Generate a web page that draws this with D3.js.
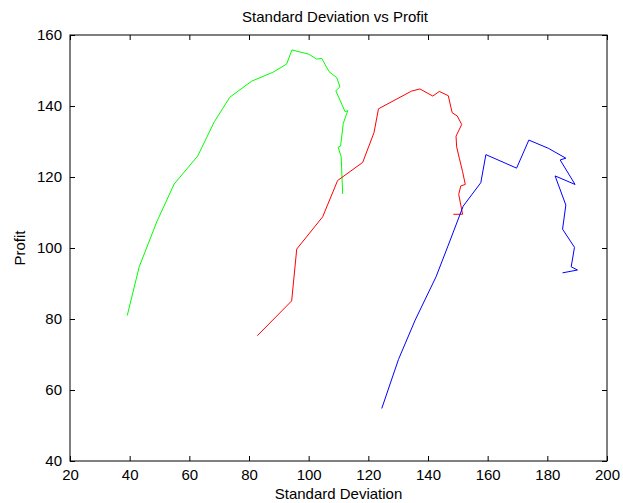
<!DOCTYPE html>
<html>
<head>
<meta charset="utf-8">
<script src="https://cdn.jsdelivr.net/npm/d3@7"></script>
<style>
  body { margin: 0; background: #fff; }
  svg { display: block; font-family: "Liberation Sans", Arial, sans-serif; }
</style>
</head>
<body>
<svg></svg>
<script>
// series data: standard deviation (x) vs profit (y)
const greenX = [39.2, 43.2, 49.1, 54.9, 62.8, 68.4, 73.6, 80.9, 88.0, 92.6, 94.4, 100.0, 102.7, 104.4, 106.8, 109.4, 110.5, 109.1, 112.2, 113.1, 111.6, 110.7, 109.9, 110.9, 111.4];
const greenY = [81.0, 94.7, 107.4, 118.0, 125.9, 135.6, 142.5, 147.0, 149.5, 151.8, 155.8, 154.6, 153.2, 153.4, 149.7, 148.0, 145.4, 144.3, 138.4, 138.7, 135.1, 128.7, 128.4, 125.7, 115.2];

const redX = [82.8, 94.3, 96.0, 104.7, 109.7, 118.1, 121.9, 123.4, 134.5, 137.3, 141.6, 143.8, 146.8, 148.1, 149.8, 151.3, 149.4, 149.6, 150.5, 151.6, 152.5, 151.0, 150.3, 151.6, 148.5];
const redY = [75.3, 85.1, 99.7, 108.8, 119.0, 124.1, 132.5, 139.2, 144.2, 144.8, 142.8, 144.1, 142.9, 138.1, 137.2, 134.8, 131.5, 128.5, 125.3, 121.5, 117.9, 117.5, 115.1, 109.5, 109.5];

const blueX = [124.5, 130.1, 135.7, 142.7, 146.8, 151.8, 157.7, 159.4, 169.7, 173.8, 180.3, 186.2, 184.3, 189.3, 182.6, 186.2, 185.1, 189.1, 188.0, 190.1, 185.1];
const blueY = [54.8, 68.6, 79.7, 91.9, 100.8, 111.8, 118.4, 126.3, 122.5, 130.4, 128.1, 125.3, 124.8, 117.9, 120.3, 112.1, 105.3, 100.2, 94.7, 93.8, 93.0];

const xTicks = [20, 40, 60, 80, 100, 120, 140, 160, 180, 200];
const yTicks = [40, 60, 80, 100, 120, 140, 160];

const series = [
  { xs: greenX, ys: greenY, color: "#00ff00" },
  { xs: redX, ys: redY, color: "#ff0000" },
  { xs: blueX, ys: blueY, color: "#0000ff" }
];

const width = 623, height = 503;
const margin = { top: 35, right: 16, bottom: 42, left: 70 };
const fontSize = "15px";

const svg = d3.select("svg").attr("width", width).attr("height", height);

const x = d3.scaleLinear().domain([20, 200]).range([margin.left, width - margin.right]);
const y = d3.scaleLinear().domain([40, 160]).range([height - margin.bottom, margin.top]);

const tickLen = 5;

// ticks (inward, all four sides)
svg.append("g")
  .attr("transform", `translate(0,${y(40)})`)
  .call(d3.axisBottom(x).tickValues(xTicks).tickSize(-tickLen).tickPadding(8).tickSizeOuter(0))
  .call(g => g.select(".domain").remove());
svg.append("g")
  .attr("transform", `translate(0,${y(160)})`)
  .call(d3.axisTop(x).tickValues(xTicks).tickSize(-tickLen).tickFormat("").tickSizeOuter(0))
  .call(g => g.select(".domain").remove());
svg.append("g")
  .attr("transform", `translate(${x(20)},0)`)
  .call(d3.axisLeft(y).tickValues(yTicks).tickSize(-tickLen).tickPadding(8).tickSizeOuter(0))
  .call(g => g.select(".domain").remove());
svg.append("g")
  .attr("transform", `translate(${x(200)},0)`)
  .call(d3.axisRight(y).tickValues(yTicks).tickSize(-tickLen).tickFormat("").tickSizeOuter(0))
  .call(g => g.select(".domain").remove());

svg.selectAll(".tick text")
  .style("font-size", fontSize)
  .style("font-family", "Liberation Sans, Arial, sans-serif")
  .attr("fill", "#000");
svg.selectAll(".tick line").attr("stroke", "#000");

// box
svg.append("rect")
  .attr("x", x(20)).attr("y", y(160))
  .attr("width", x(200) - x(20)).attr("height", y(40) - y(160))
  .attr("fill", "none").attr("stroke", "#000").attr("stroke-width", 1);

// lines
const line = d3.line().x(d => x(d[0])).y(d => y(d[1]));
series.forEach(s => {
  svg.append("path")
    .datum(s.xs.map((v, i) => [v, s.ys[i]]))
    .attr("d", line)
    .attr("fill", "none")
    .attr("stroke", s.color)
    .attr("stroke-width", 1);
});

// title and labels
svg.append("text")
  .attr("x", 335).attr("y", 22)
  .attr("text-anchor", "middle").style("font-size", fontSize)
  .text("Standard Deviation vs Profit");
svg.append("text")
  .attr("x", (x(20) + x(200)) / 2).attr("y", 499)
  .attr("text-anchor", "middle").style("font-size", fontSize)
  .text("Standard Deviation");
svg.append("text")
  .attr("transform", `translate(25,${(y(40) + y(160)) / 2}) rotate(-90)`)
  .attr("text-anchor", "middle").style("font-size", fontSize)
  .text("Profit");
</script>
</body>
</html>
